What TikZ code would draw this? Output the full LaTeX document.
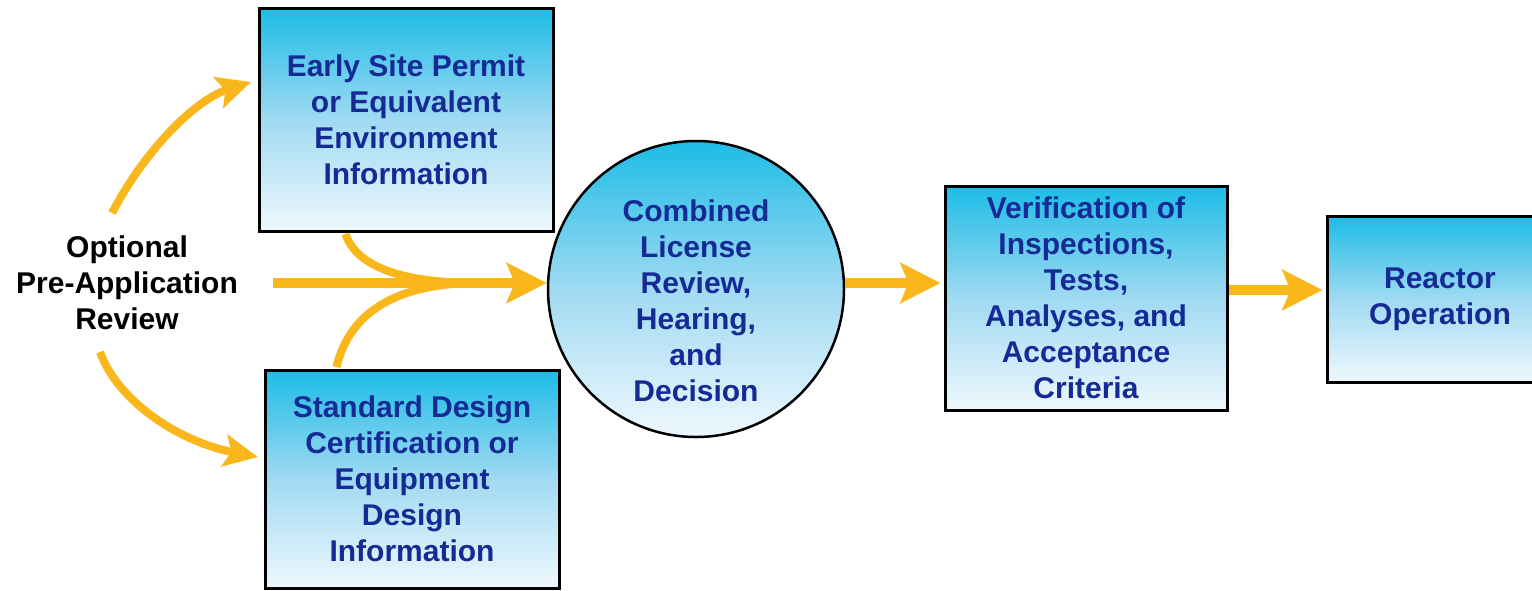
\documentclass[tikz,border=0pt]{standalone}
\usepackage{fontspec}
\setmainfont{Liberation Sans}
\usetikzlibrary{arrows.meta,calc}

\definecolor{arrowgold}{RGB}{249,183,27}
\definecolor{textblue}{RGB}{22,42,150}
\definecolor{shadetop}{RGB}{28,188,230}
\definecolor{shademid}{RGB}{160,218,242}
\definecolor{shadebot}{RGB}{238,248,253}

\begin{document}
\begin{tikzpicture}[x=1pt,y=-1pt,
  label font/.style={font=\fontsize{30}{36}\selectfont\bfseries, align=center},
  stage/.style={draw=black, line width=3pt,
    top color=shadetop, bottom color=shadebot, middle color=shademid,
    text=textblue, label font, inner sep=0pt},
  flow/.style={draw=arrowgold, line width=10pt,
    -{Stealth[length=40pt,width=40pt,inset=8pt]}},
  branch/.style={draw=arrowgold, line width=8pt,
    -{Stealth[length=34pt,width=32pt,inset=7pt]}},
  merge/.style={draw=arrowgold, line width=8pt}]

% page
\fill[white] (0,0) rectangle (1532,590);
\useasboundingbox (0,0) rectangle (1532,590);

% stages
\node[stage, minimum width=294pt, minimum height=223pt] (esp) at (406,119.5)
  {Early Site Permit\\or Equivalent\\Environment\\Information};
\node[stage, minimum width=294pt, minimum height=218pt] (sdc) at (412,479)
  {Standard Design\\Certification or\\Equipment\\Design\\Information};
\node[stage, circle, line width=2.5pt, minimum size=296pt] (clr) at (696,289) {};
\node[label font, text=textblue] (clrtxt) at (696,301)
  {Combined\\License\\Review,\\Hearing,\\and\\Decision};
\node[stage, minimum width=282pt, minimum height=224pt] (ver) at (1086,298)
  {Verification of\\Inspections,\\Tests,\\Analyses, and\\Acceptance\\Criteria};
\node[stage, minimum width=226pt, minimum height=166pt] (rop) at (1440,299)
  {Reactor\\Operation};

\node[label font, text=black] (opt) at (127,283)
  {Optional\\Pre-Application\\Review};

% connector ends
\coordinate (optup) at (112,213);
\coordinate (optdown) at (100,352);
\coordinate (espin) at (251,82);
\coordinate (sdcin) at (258,457);
\coordinate (mainstart) at (273,283);
\coordinate (join) at (478,283);
\coordinate (lvlA) at (0,283);
\coordinate (lvlB) at (0,290);

% optional pre-application branches
\draw[branch] (optup) .. controls (145,150) and (195,100) .. (espin);
\draw[branch] (optdown) .. controls (118,402) and (180,442) .. (sdcin);

% inputs merging into the combined license review
\draw[merge] ($(esp.south west)+(88,1.5)$) .. controls (357,268) and (405,283) .. (join);
\draw[merge] ($(sdc.north west)+(73,-1.5)$) .. controls (350,310) and (400,283) .. (join);
\draw[flow] (mainstart) -- (clr.west |- lvlA);

% downstream flow
\draw[flow] (clr.east |- lvlA) -- ($(ver.west |- lvlA)+(-3,0)$);
\draw[flow] (ver.east |- lvlB) -- ($(rop.west |- lvlB)+(-3,0)$);
\end{tikzpicture}
\end{document}
